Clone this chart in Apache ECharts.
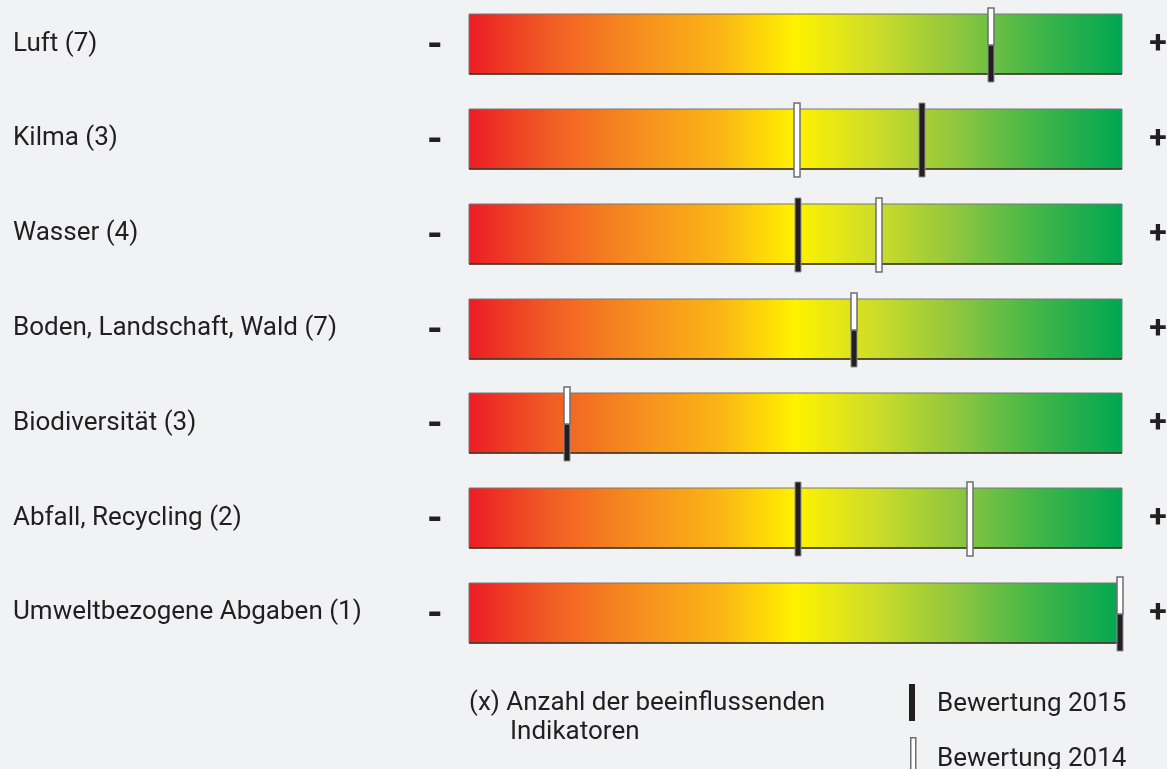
<!DOCTYPE html>
<html>
<head>
<meta charset="utf-8">
<script src="https://cdn.jsdelivr.net/npm/echarts@6/dist/echarts.min.js"></script>
<style>
  html, body { margin: 0; padding: 0; background: #f1f2f4; }
  #chart { width: 1167px; height: 769px; }
</style>
</head>
<body>
<div id="chart"></div>
<script>
// Themes with the number of contributing indicators
const categories = [
  'Luft (7)',
  'Kilma (3)',
  'Wasser (4)',
  'Boden, Landschaft, Wald (7)',
  'Biodiversität (3)',
  'Abfall, Recycling (2)',
  'Umweltbezogene Abgaben (1)'
];
// Position on the scale from 0 (negative) to 100 (positive)
const rating2015 = [80, 69.4, 50.4, 59, 15, 50.4, 99.7];
const rating2014 = [80, 50.2, 62.8, 59, 15, 76.7, 99.7];
const scaleMin = 0;
const scaleMax = 100;
const seriesNames = ['Bewertung 2015', 'Bewertung 2014'];
const noteLines = ['(x) Anzahl der beeinflussenden', 'Indikatoren'];

const FONT = 'Roboto, "Open Sans", sans-serif';
const INK = '#231f20';
const FS = 26;

const chart = echarts.init(document.getElementById('chart'), null, { renderer: 'canvas' });

const gradientStops = [
  { offset: 0.00, color: '#ec1c24' },
  { offset: 0.12, color: '#f15a24' },
  { offset: 0.25, color: '#f68b1f' },
  { offset: 0.38, color: '#fbb316' },
  { offset: 0.50, color: '#fff200' },
  { offset: 0.62, color: '#cfdd28' },
  { offset: 0.75, color: '#8dc63f' },
  { offset: 0.88, color: '#3cb54a' },
  { offset: 1.00, color: '#00a651' }
];

const currentStyle = { fill: INK, stroke: '#8f8f92', lineWidth: 1 };
const previousStyle = { fill: '#ffffff', stroke: '#6d6e71', lineWidth: 1.5 };

// Gradient scale bar with "-" and "+" at its ends
function renderBand(params, api) {
  const row = api.value(1);
  const l = api.coord([scaleMin, row]);
  const r = api.coord([scaleMax, row]);
  const band = api.size([0, 1])[1];
  const h = Math.round(band * 0.633);
  const y0 = Math.round(l[1] - h / 2);
  return {
    type: 'group',
    children: [
      {
        type: 'rect',
        shape: { x: l[0], y: y0, width: r[0] - l[0], height: h },
        style: {
          fill: new echarts.graphic.LinearGradient(0, 0, 1, 0, gradientStops),
          stroke: '#77787b',
          lineWidth: 1
        }
      },
      {
        type: 'line',
        shape: { x1: l[0], y1: y0 + h, x2: r[0], y2: y0 + h },
        style: { stroke: '#3b3222', lineWidth: 1.5 }
      },
      {
        type: 'text',
        x: l[0] - 34, y: l[1] + 3,
        style: { text: '-', fontSize: 40, fontWeight: 'bold', fontFamily: FONT, fill: INK, align: 'center', verticalAlign: 'middle' }
      },
      {
        type: 'text',
        x: r[0] + 36, y: l[1] + 1,
        style: { text: '+', fontSize: 32, fontWeight: 'bold', fontFamily: FONT, fill: INK, align: 'center', verticalAlign: 'middle' }
      }
    ]
  };
}

// Vertical marker; when both years coincide, 2014 takes the upper half and 2015 the lower half
function makeMarker(isCurrent) {
  return function (params, api) {
    const row = api.value(1);
    const c = api.coord([api.value(0), row]);
    const band = api.size([0, 1])[1];
    const h = Math.round(band * 0.633);
    const top = Math.round(c[1] - h / 2) - 6;
    const bottom = Math.round(c[1] + h / 2) + 8;
    const same = rating2015[row] === rating2014[row];
    let y1 = top, y2 = bottom;
    if (same) {
      const mid = Math.round(c[1]) + 1;
      if (isCurrent) { y1 = mid; } else { y2 = mid; }
    }
    const w = 6;
    return {
      type: 'rect',
      shape: { x: Math.round(c[0] - w / 2), y: y1, width: w, height: y2 - y1 },
      style: isCurrent ? currentStyle : previousStyle,
      z2: isCurrent ? 1 : 2
    };
  };
}

const option = {
  backgroundColor: '#f1f2f4',
  animation: false,
  grid: {
    left: 469,
    right: 45,
    top: -3.4,
    height: 663.8,
    containLabel: false,
    outerBoundsMode: 'none'
  },
  xAxis: {
    type: 'value',
    min: scaleMin,
    max: scaleMax,
    show: false
  },
  yAxis: {
    type: 'category',
    data: categories,
    inverse: true,
    axisLine: { show: false },
    axisTick: { show: false },
    splitLine: { show: false },
    axisLabel: {
      align: 'left',
      margin: 456,
      fontSize: FS,
      fontFamily: FONT,
      color: INK
    }
  },
  graphic: [
    // note on the number in brackets
    {
      type: 'text', left: 469, top: 690,
      style: { text: noteLines[0], fontSize: FS, fontFamily: FONT, fill: INK }
    },
    {
      type: 'text', left: 510, top: 719,
      style: { text: noteLines[1], fontSize: FS, fontFamily: FONT, fill: INK }
    },
    // key for the two marker types
    {
      type: 'rect', left: 909, top: 684,
      shape: { width: 6, height: 37 },
      style: { fill: INK }
    },
    {
      type: 'text', left: 937, top: 691,
      style: { text: seriesNames[0], fontSize: FS, fontFamily: FONT, fill: INK }
    },
    {
      type: 'rect', left: 910, top: 737,
      shape: { width: 5, height: 40 },
      style: previousStyle
    },
    {
      type: 'text', left: 937, top: 746,
      style: { text: seriesNames[1], fontSize: FS, fontFamily: FONT, fill: INK }
    }
  ],
  series: [
    {
      name: 'scale',
      type: 'custom',
      renderItem: renderBand,
      data: categories.map((c, i) => [scaleMin, i]),
      silent: true,
      z: 1
    },
    {
      name: seriesNames[0],
      type: 'custom',
      renderItem: makeMarker(true),
      data: rating2015.map((v, i) => [v, i]),
      z: 3
    },
    {
      name: seriesNames[1],
      type: 'custom',
      renderItem: makeMarker(false),
      data: rating2014.map((v, i) => [v, i]),
      z: 4
    }
  ]
};

chart.setOption(option);
</script>
</body>
</html>
